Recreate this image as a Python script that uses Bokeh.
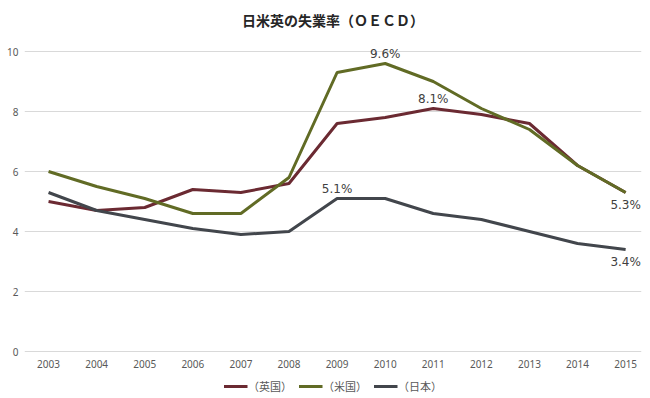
from bokeh.plotting import figure
from bokeh.models import ColumnDataSource, Legend, LegendItem, FixedTicker, Range1d
from bokeh.embed import file_html
from bokeh.resources import INLINE
from bokeh.core.properties import value

years = list(range(2003, 2016))
uk = [5.0, 4.7, 4.8, 5.4, 5.3, 5.6, 7.6, 7.8, 8.1, 7.9, 7.6, 6.2, 5.3]
us = [6.0, 5.5, 5.1, 4.6, 4.6, 5.8, 9.3, 9.6, 9.0, 8.1, 7.4, 6.2, 5.3]
jp = [5.3, 4.7, 4.4, 4.1, 3.9, 4.0, 5.1, 5.1, 4.6, 4.4, 4.0, 3.6, 3.4]
series_names = ["（英国）", "（米国）", "（日本）"]
x_tick_labels = [str(y) for y in years]
y_ticks = [0, 2, 4, 6, 8, 10]
title_text = "日米英の失業率（ＯＥＣＤ）"

# data labels: (series, year) shown above / below the point
labels_above = [("us", 2010), ("uk", 2011), ("jp", 2009)]
labels_below = [("us", 2015), ("jp", 2015)]

series = {"uk": uk, "us": us, "jp": jp}
colors = {"uk": "#6b2a32", "us": "#616b25", "jp": "#42464c"}

# the frame extends below 0 so the category labels and legend sit inside it
p = figure(frame_width=617, frame_height=363, output_backend="svg", toolbar_location=None,
           x_range=Range1d(2002.5, 2015.33), y_range=Range1d(-1.5, 10.6),
           min_border_left=24, min_border_right=1, min_border_top=33, min_border_bottom=0)
p.outline_line_color = None
p.background_fill_color = "white"
p.border_fill_color = "white"

p.title.text = title_text
p.title.align = "center"
p.title.offset = 6
p.title.text_font = "Noto Sans CJK JP"
p.title.text_font_size = "14px"
p.title.text_font_style = "bold"
p.title.text_color = "#262626"
p.title.standoff = 8

renderers = {}
for key in ["uk", "us", "jp"]:
    src = ColumnDataSource(dict(x=years, y=series[key]))
    renderers[key] = p.line("x", "y", source=src, line_color=colors[key], line_width=3)

def label_source(items):
    xs, ys, ts = [], [], []
    for key, yr in items:
        v = series[key][years.index(yr)]
        xs.append(yr); ys.append(v); ts.append(f"{v:.1f}%")
    return ColumnDataSource(dict(x=xs, y=ys, t=ts))

p.text("x", "y", text="t", source=label_source(labels_above), text_align="center",
       text_baseline="bottom", y_offset=-3, text_font=value("DejaVu Sans"),
       text_font_size="12px", text_color="#404040")
p.text("x", "y", text="t", source=label_source(labels_below), text_align="center",
       text_baseline="top", y_offset=5, text_font=value("DejaVu Sans"),
       text_font_size="12px", text_color="#404040")

# category (year) labels along the zero line
p.text(x=years, y=[0] * len(years), text=x_tick_labels, text_align="center",
       text_baseline="middle", y_offset=12, text_font=value("Noto Sans"),
       text_font_size="10px", text_color="#595959")

p.xgrid.grid_line_color = None
p.ygrid.grid_line_color = "#d9d9d9"
p.ygrid.grid_line_width = 1

p.xaxis.visible = False
p.yaxis.ticker = FixedTicker(ticks=y_ticks)
ax = p.yaxis[0]
ax.axis_line_color = None
ax.major_tick_line_color = None
ax.minor_tick_line_color = None
ax.major_tick_out = 0
ax.major_tick_in = 0
ax.major_label_text_font = "Noto Sans"
ax.major_label_text_font_size = "10px"
ax.major_label_text_color = "#595959"
ax.major_label_standoff = 6

legend = Legend(items=[LegendItem(label=series_names[i], renderers=[renderers[k]])
                       for i, k in enumerate(["uk", "us", "jp"])],
                orientation="horizontal", location="bottom_center",
                glyph_width=24, glyph_height=14, label_height=14, label_standoff=1,
                spacing=6, padding=0, margin=2, border_line_color=None,
                background_fill_alpha=0,
                label_text_font="Noto Sans CJK JP", label_text_font_size="11px",
                label_text_color="#595959")
p.add_layout(legend)

open("out.html", "w").write(file_html(p, INLINE))
